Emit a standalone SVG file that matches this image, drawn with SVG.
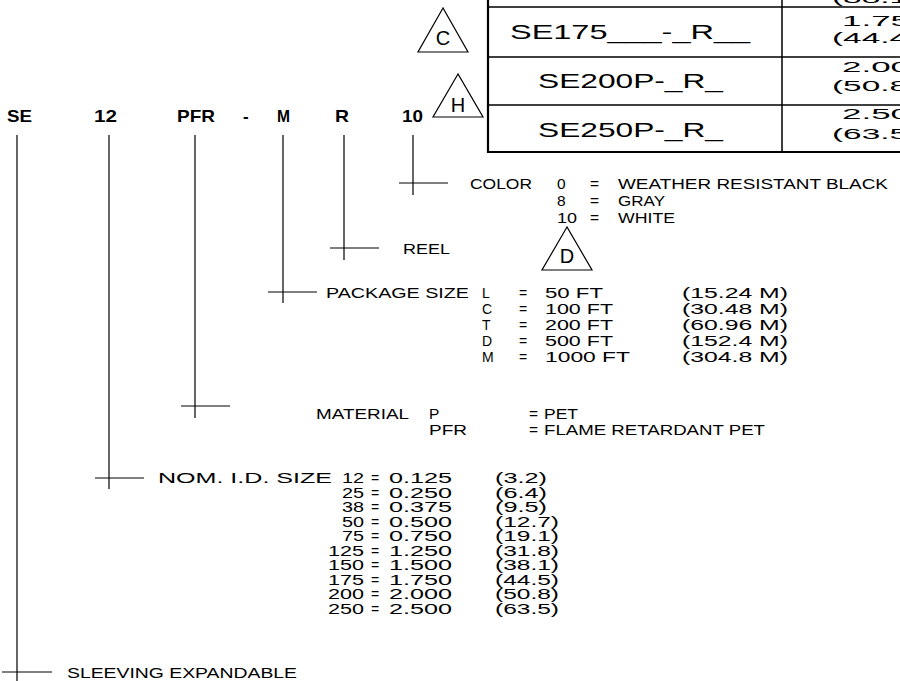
<svg xmlns="http://www.w3.org/2000/svg" width="900" height="681" viewBox="0 0 900 681">
<style>
  .bg{fill:#ffffff}
  .ln{stroke:#000;stroke-width:1.2;fill:none}
  .tb{stroke:#000;stroke-width:1.5;fill:none}
  .tbo{stroke:#000;stroke-width:2.2;fill:none}
  .tri{stroke:#000;stroke-width:1.2;fill:none}
  text{font-family:"Liberation Sans",Arial,sans-serif;fill:#000}
  .hd{font-size:17px;font-weight:bold}
  .sm{font-size:15.5px}
  .ls{font-size:14px}
  .tt{font-size:21px}
  .tr{font-size:15.5px}
  .lt{font-size:20px;text-anchor:middle}
</style>
<rect class="bg" x="0" y="0" width="900" height="681"/>

<g id="table">
  <path class="tbo" d="M488 0 V152 H900"/>
  <path class="tb" d="M782 0 V152 M488 7 H900 M488 57 H900 M488 105 H900"/>
  <text class="tt" x="510" y="39" textLength="240" lengthAdjust="spacingAndGlyphs">SE175___-_R__</text>
  <text class="tt" x="538" y="88" textLength="185" lengthAdjust="spacingAndGlyphs">SE200P-_R_</text>
  <text class="tt" x="538" y="137" textLength="185" lengthAdjust="spacingAndGlyphs">SE250P-_R_</text>
  <text class="tr" x="832" y="3" textLength="76" lengthAdjust="spacingAndGlyphs">(38.1</text>
  <text class="tr" x="842" y="26" textLength="68" lengthAdjust="spacingAndGlyphs">1.75</text>
  <text class="tr" x="832" y="43" textLength="76" lengthAdjust="spacingAndGlyphs">(44.4</text>
  <text class="tr" x="842" y="72" textLength="68" lengthAdjust="spacingAndGlyphs">2.00</text>
  <text class="tr" x="832" y="91" textLength="76" lengthAdjust="spacingAndGlyphs">(50.8</text>
  <text class="tr" x="842" y="119" textLength="68" lengthAdjust="spacingAndGlyphs">2.50</text>
  <text class="tr" x="832" y="139" textLength="76" lengthAdjust="spacingAndGlyphs">(63.5</text>
</g>

<g id="rev-c">
  <polygon class="tri" points="443,8 418,52 468,52"/>
  <text class="lt" x="443" y="45">C</text>
</g>
<g id="rev-h">
  <polygon class="tri" points="458,74 433,117 483,117"/>
  <text class="lt" x="458" y="112">H</text>
</g>
<g id="rev-d">
  <polygon class="tri" points="567,227 542,270 592,270"/>
  <text class="lt" x="567" y="263">D</text>
</g>

<g id="part-number">
  <text class="hd" x="7" y="122" textLength="25" lengthAdjust="spacingAndGlyphs">SE</text>
  <text class="hd" x="94" y="122" textLength="23" lengthAdjust="spacingAndGlyphs">12</text>
  <text class="hd" x="177" y="122" textLength="38" lengthAdjust="spacingAndGlyphs">PFR</text>
  <text class="hd" x="243" y="122">-</text>
  <text class="hd" x="277" y="122" textLength="13" lengthAdjust="spacingAndGlyphs">M</text>
  <text class="hd" x="335" y="122" textLength="14" lengthAdjust="spacingAndGlyphs">R</text>
  <text class="hd" x="402" y="122" textLength="21" lengthAdjust="spacingAndGlyphs">10</text>
</g>

<g id="connectors">
  <path class="ln" d="M17 135 V684 M2 672 H52"/>
  <path class="ln" d="M109 135 V489 M95 478 H144"/>
  <path class="ln" d="M195 135 V418 M181 406 H230"/>
  <path class="ln" d="M283 135 V303 M268 292 H317"/>
  <path class="ln" d="M344 135 V260 M330 248 H379"/>
  <path class="ln" d="M413 135 V195 M399 183 H448"/>
</g>

<g id="color">
  <text class="sm" x="470" y="189" textLength="62" lengthAdjust="spacingAndGlyphs">COLOR</text>
  <text class="sm" x="557" y="189">0</text>
  <text class="sm" x="590" y="189">=</text>
  <text class="sm" x="618" y="189" textLength="270" lengthAdjust="spacingAndGlyphs">WEATHER RESISTANT BLACK</text>
  <text class="sm" x="557" y="206">8</text>
  <text class="sm" x="590" y="206">=</text>
  <text class="sm" x="618" y="206" textLength="47" lengthAdjust="spacingAndGlyphs">GRAY</text>
  <text class="sm" x="557" y="223" textLength="20" lengthAdjust="spacingAndGlyphs">10</text>
  <text class="sm" x="590" y="223">=</text>
  <text class="sm" x="618" y="223" textLength="57" lengthAdjust="spacingAndGlyphs">WHITE</text>
</g>

<g id="reel">
  <text class="sm" x="403" y="254" textLength="47" lengthAdjust="spacingAndGlyphs">REEL</text>
</g>

<g id="package-size">
  <text class="sm" x="326" y="298" textLength="143" lengthAdjust="spacingAndGlyphs">PACKAGE SIZE</text>
  <text class="ls" x="482" y="298">L</text>
  <text class="ls" x="482" y="314">C</text>
  <text class="ls" x="482" y="330">T</text>
  <text class="ls" x="482" y="346">D</text>
  <text class="ls" x="482" y="362">M</text>
  <text class="ls" x="519" y="298">=</text>
  <text class="ls" x="519" y="314">=</text>
  <text class="ls" x="519" y="330">=</text>
  <text class="ls" x="519" y="346">=</text>
  <text class="ls" x="519" y="362">=</text>
  <text class="ls" x="545" y="298" textLength="58" lengthAdjust="spacingAndGlyphs">50 FT</text>
  <text class="ls" x="545" y="314" textLength="68" lengthAdjust="spacingAndGlyphs">100 FT</text>
  <text class="ls" x="545" y="330" textLength="68" lengthAdjust="spacingAndGlyphs">200 FT</text>
  <text class="ls" x="545" y="346" textLength="68" lengthAdjust="spacingAndGlyphs">500 FT</text>
  <text class="ls" x="545" y="362" textLength="85" lengthAdjust="spacingAndGlyphs">1000 FT</text>
  <text class="ls" x="682" y="298" textLength="106" lengthAdjust="spacingAndGlyphs">(15.24 M)</text>
  <text class="ls" x="682" y="314" textLength="106" lengthAdjust="spacingAndGlyphs">(30.48 M)</text>
  <text class="ls" x="682" y="330" textLength="106" lengthAdjust="spacingAndGlyphs">(60.96 M)</text>
  <text class="ls" x="682" y="346" textLength="106" lengthAdjust="spacingAndGlyphs">(152.4 M)</text>
  <text class="ls" x="682" y="362" textLength="106" lengthAdjust="spacingAndGlyphs">(304.8 M)</text>
</g>

<g id="material">
  <text class="sm" x="316" y="419" textLength="93" lengthAdjust="spacingAndGlyphs">MATERIAL</text>
  <text class="sm" x="429" y="419">P</text>
  <text class="sm" x="429" y="435" textLength="38" lengthAdjust="spacingAndGlyphs">PFR</text>
  <text class="sm" x="529" y="419">=</text>
  <text class="sm" x="529" y="435">=</text>
  <text class="sm" x="544" y="419" textLength="34" lengthAdjust="spacingAndGlyphs">PET</text>
  <text class="sm" x="544" y="435" textLength="221" lengthAdjust="spacingAndGlyphs">FLAME RETARDANT PET</text>
</g>

<g id="nom-id-size">
  <text class="sm" x="158" y="483" textLength="174" lengthAdjust="spacingAndGlyphs">NOM. I.D. SIZE</text>
  <text class="ls" x="342" y="483" textLength="22" lengthAdjust="spacingAndGlyphs">12</text>
  <text class="ls" x="342" y="497.5" textLength="22" lengthAdjust="spacingAndGlyphs">25</text>
  <text class="ls" x="342" y="512" textLength="22" lengthAdjust="spacingAndGlyphs">38</text>
  <text class="ls" x="342" y="526.5" textLength="22" lengthAdjust="spacingAndGlyphs">50</text>
  <text class="ls" x="342" y="541" textLength="22" lengthAdjust="spacingAndGlyphs">75</text>
  <text class="ls" x="328" y="555.5" textLength="36" lengthAdjust="spacingAndGlyphs">125</text>
  <text class="ls" x="328" y="570" textLength="36" lengthAdjust="spacingAndGlyphs">150</text>
  <text class="ls" x="328" y="584.5" textLength="36" lengthAdjust="spacingAndGlyphs">175</text>
  <text class="ls" x="328" y="599" textLength="36" lengthAdjust="spacingAndGlyphs">200</text>
  <text class="ls" x="328" y="613.5" textLength="36" lengthAdjust="spacingAndGlyphs">250</text>
  <text class="ls" x="371" y="483">=</text>
  <text class="ls" x="371" y="497.5">=</text>
  <text class="ls" x="371" y="512">=</text>
  <text class="ls" x="371" y="526.5">=</text>
  <text class="ls" x="371" y="541">=</text>
  <text class="ls" x="371" y="555.5">=</text>
  <text class="ls" x="371" y="570">=</text>
  <text class="ls" x="371" y="584.5">=</text>
  <text class="ls" x="371" y="599">=</text>
  <text class="ls" x="371" y="613.5">=</text>
  <text class="ls" x="389" y="483" textLength="63" lengthAdjust="spacingAndGlyphs">0.125</text>
  <text class="ls" x="389" y="497.5" textLength="63" lengthAdjust="spacingAndGlyphs">0.250</text>
  <text class="ls" x="389" y="512" textLength="63" lengthAdjust="spacingAndGlyphs">0.375</text>
  <text class="ls" x="389" y="526.5" textLength="63" lengthAdjust="spacingAndGlyphs">0.500</text>
  <text class="ls" x="389" y="541" textLength="63" lengthAdjust="spacingAndGlyphs">0.750</text>
  <text class="ls" x="389" y="555.5" textLength="63" lengthAdjust="spacingAndGlyphs">1.250</text>
  <text class="ls" x="389" y="570" textLength="63" lengthAdjust="spacingAndGlyphs">1.500</text>
  <text class="ls" x="389" y="584.5" textLength="63" lengthAdjust="spacingAndGlyphs">1.750</text>
  <text class="ls" x="389" y="599" textLength="63" lengthAdjust="spacingAndGlyphs">2.000</text>
  <text class="ls" x="389" y="613.5" textLength="63" lengthAdjust="spacingAndGlyphs">2.500</text>
  <text class="ls" x="495" y="483" textLength="52" lengthAdjust="spacingAndGlyphs">(3.2)</text>
  <text class="ls" x="495" y="497.5" textLength="52" lengthAdjust="spacingAndGlyphs">(6.4)</text>
  <text class="ls" x="495" y="512" textLength="52" lengthAdjust="spacingAndGlyphs">(9.5)</text>
  <text class="ls" x="495" y="526.5" textLength="64" lengthAdjust="spacingAndGlyphs">(12.7)</text>
  <text class="ls" x="495" y="541" textLength="64" lengthAdjust="spacingAndGlyphs">(19.1)</text>
  <text class="ls" x="495" y="555.5" textLength="64" lengthAdjust="spacingAndGlyphs">(31.8)</text>
  <text class="ls" x="495" y="570" textLength="64" lengthAdjust="spacingAndGlyphs">(38.1)</text>
  <text class="ls" x="495" y="584.5" textLength="64" lengthAdjust="spacingAndGlyphs">(44.5)</text>
  <text class="ls" x="495" y="599" textLength="64" lengthAdjust="spacingAndGlyphs">(50.8)</text>
  <text class="ls" x="495" y="613.5" textLength="64" lengthAdjust="spacingAndGlyphs">(63.5)</text>
</g>

<g id="sleeving">
  <text class="sm" x="67" y="678" textLength="230" lengthAdjust="spacingAndGlyphs">SLEEVING EXPANDABLE</text>
</g>
</svg>
